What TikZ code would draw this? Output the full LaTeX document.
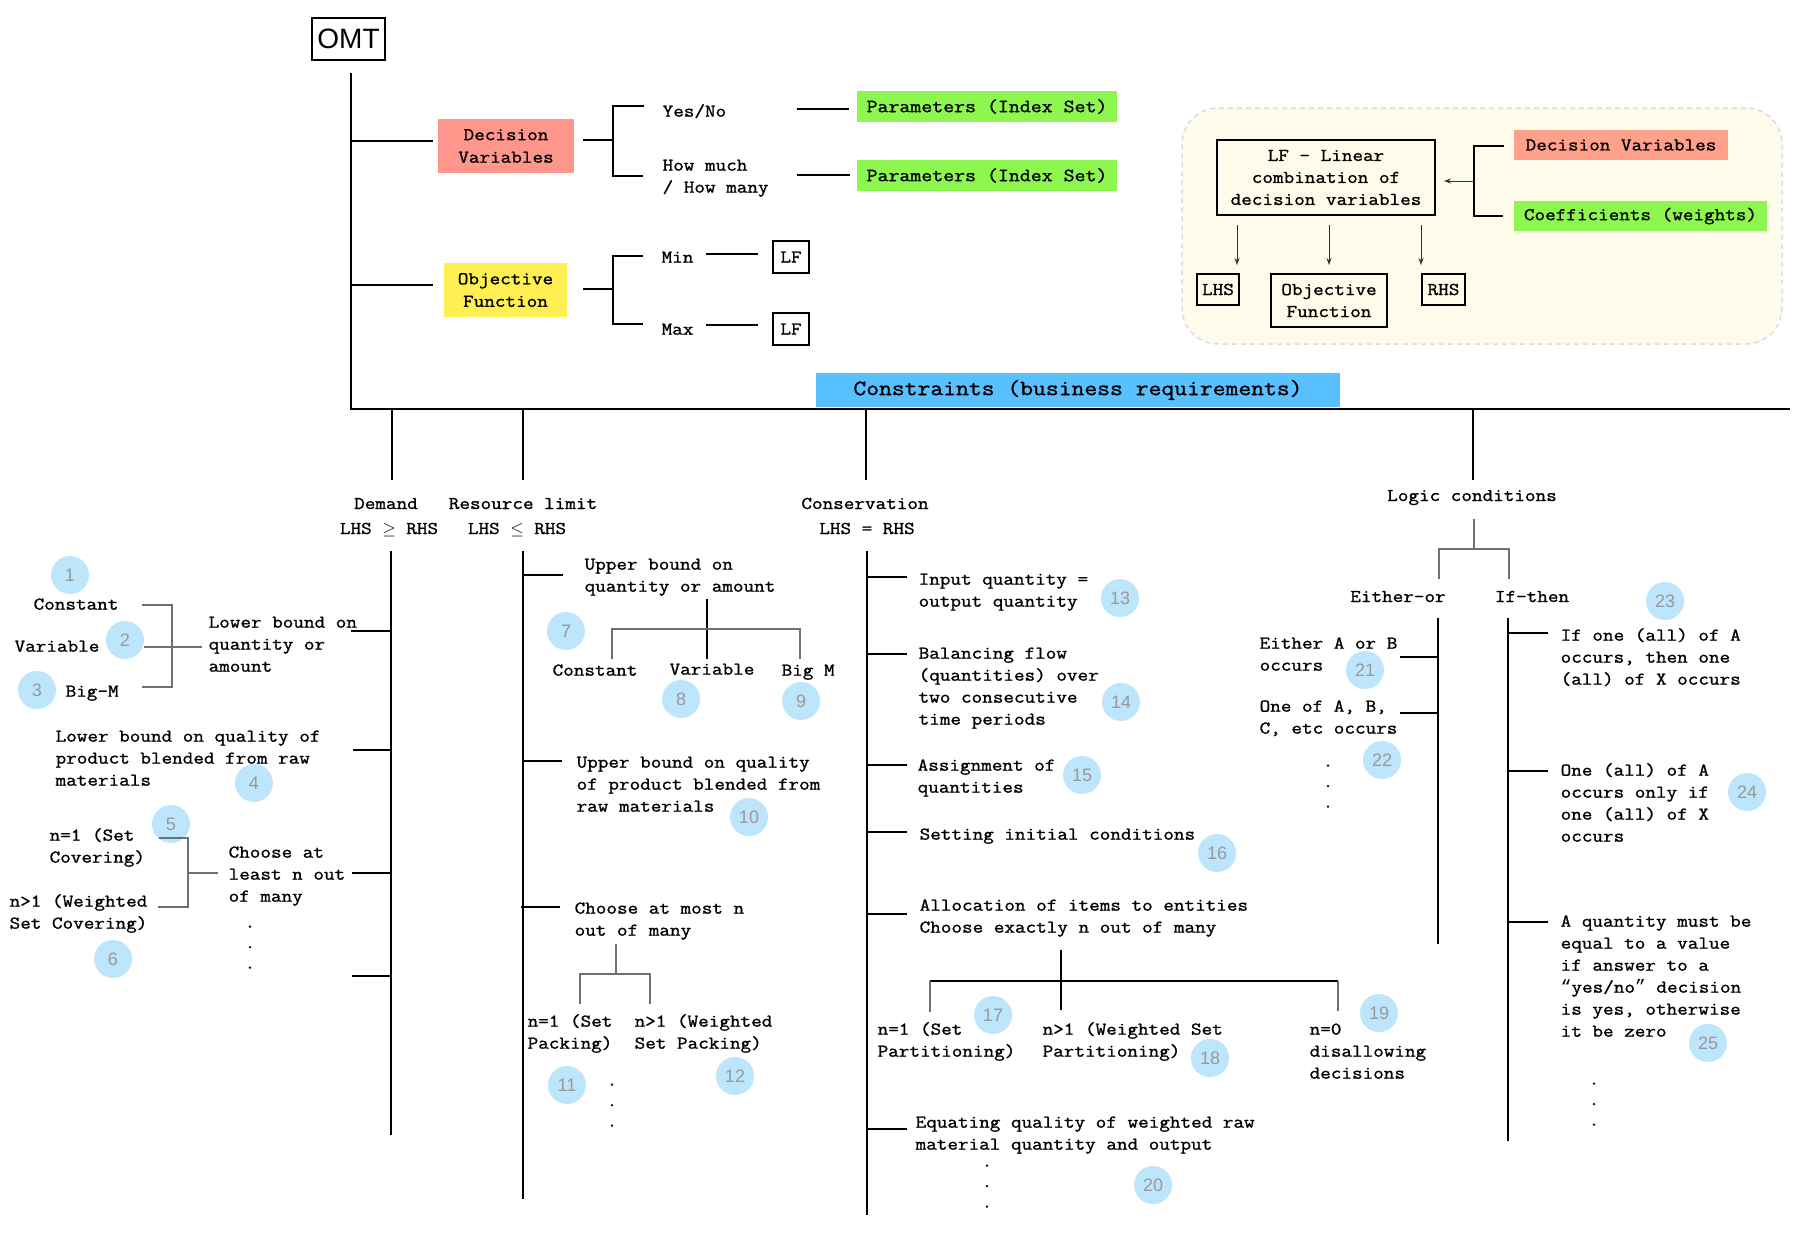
\documentclass[tikz,border=0pt]{standalone}
\usepackage{fontspec}
\newfontfamily\mono{Latin Modern Mono}[FakeStretch=1.143,FakeBold=1.2]
\newfontfamily\qmono{Liberation Mono}
\newfontfamily\hsans{Liberation Sans}
\usetikzlibrary{arrows.meta}
\definecolor{dvred}{HTML}{FF968C}
\definecolor{dvredb}{HTML}{FFA08A}
\definecolor{ofyel}{HTML}{FFEF52}
\definecolor{pgreen}{HTML}{8DF750}
\definecolor{cblue}{HTML}{58C0FF}
\definecolor{cream}{HTML}{FEFBEA}
\definecolor{creamline}{HTML}{DCDCDC}
\definecolor{numfill}{HTML}{BDE5FB}
\definecolor{numtext}{HTML}{999999}
\definecolor{treegray}{HTML}{707070}
\newcommand\fl{\rule{0pt}{15pt}}
\begin{document}
\begin{tikzpicture}[x=1pt,y=-1pt, line width=1.3pt,
 txt/.style={font=\mono\fontsize{18}{22}\selectfont, inner sep=0pt, align=left, anchor=north west},
 ctxt/.style={font=\mono\fontsize{18}{22}\selectfont, inner sep=0pt, anchor=base},
 cdots/.style={font=\mono\fontsize{18}{20.5}\selectfont, inner sep=0pt, align=center, anchor=north},
 box/.style={draw, line width=1.2pt, inner sep=0pt, align=center, font=\mono\fontsize{18}{22}\selectfont},
 fbox/.style={inner sep=0pt, align=center, font=\mono\fontsize{18}{22.5}\selectfont},
 num/.style={circle, fill=numfill, minimum size=38pt, inner sep=0pt, text=numtext, font=\hsans\fontsize{18}{18}\selectfont},
 gl/.style={draw=treegray},
 arr/.style={-{Stealth[length=7pt,width=5pt]}, line width=1pt, draw=black!80}
]
\useasboundingbox (0,0) rectangle (1797,1234);
\fill[white] (0,0) rectangle (1797,1234);

% ---------- cream panel ----------
\node[draw=creamline, fill=cream, dash pattern=on 5pt off 4pt, line width=1.5pt,
  rounded corners=36pt, minimum width=600pt, minimum height=236pt, inner sep=0pt] (panel) at (1482,226) {};

% ---------- number circles ----------
\node[num] (c1) at (70,575) {1};
\node[num] (c2) at (125,640) {2};
\node[num] (c3) at (37,690) {3};
\node[num] (c4) at (254,783) {4};
\node[num] (c5) at (171,824) {5};
\node[num] (c6) at (113,959) {6};
\node[num] (c7) at (566,631) {7};
\node[num] (c8) at (681,699) {8};
\node[num] (c9) at (801,701) {9};
\node[num] (c10) at (749,817) {10};
\node[num] (c11) at (567,1085) {11};
\node[num] (c12) at (735,1076) {12};
\node[num] (c13) at (1120,598) {13};
\node[num] (c14) at (1121,702) {14};
\node[num] (c15) at (1082,775) {15};
\node[num] (c16) at (1217,853) {16};
\node[num] (c17) at (993,1015) {17};
\node[num] (c18) at (1210,1058) {18};
\node[num] (c19) at (1379,1013) {19};
\node[num] (c20) at (1153,1185) {20};
\node[num] (c21) at (1365,670) {21};
\node[num] (c22) at (1382,760) {22};
\node[num] (c23) at (1665,601) {23};
\node[num] (c24) at (1747,792) {24};
\node[num] (c25) at (1708,1043) {25};

% ---------- boxes ----------
\node[draw, line width=1.2pt, minimum width=73pt, minimum height=42pt, inner sep=0pt,
  font=\hsans\fontsize{28}{28}\selectfont] (omt) at (348.5,39) {OMT};
\node[fbox, fill=dvred, minimum width=136pt, minimum height=54pt] (dv) at (506,146) {Decision\\Variables};
\node[fbox, fill=ofyel, minimum width=123pt, minimum height=54pt] (of) at (505.5,290) {Objective\\Function};
\node[fbox, fill=pgreen, minimum width=260pt, minimum height=31pt, font=\mono\fontsize{18.6}{22}\selectfont] (p1) at (987,106.5) {Parameters (Index Set)};
\node[fbox, fill=pgreen, minimum width=260pt, minimum height=31pt, font=\mono\fontsize{18.6}{22}\selectfont] (p2) at (987,175.5) {Parameters (Index Set)};
\node[box, minimum width=36pt, minimum height=32pt] (lf1) at (791,257) {LF};
\node[box, minimum width=36pt, minimum height=32pt] (lf2) at (791,329) {LF};
\node[fbox, fill=cblue, minimum width=524pt, minimum height=34pt, font=\mono\fontsize{21.8}{24}\selectfont] (cons) at (1078,390) {Constraints (business requirements)};

\node[box, fill=cream, minimum width=218pt, minimum height=75pt] (lfb) at (1326,177.5) {LF - Linear\\combination of\\decision variables};
\node[box, fill=cream, minimum width=42pt, minimum height=31pt] (lhs) at (1218,289.5) {LHS};
\node[box, fill=cream, minimum width=116pt, minimum height=53pt] (ofs) at (1329,300.5) {Objective\\Function};
\node[box, fill=cream, minimum width=43pt, minimum height=31pt] (rhs) at (1443.5,289.5) {RHS};
\node[fbox, fill=dvredb, minimum width=214pt, minimum height=30pt] (dv2) at (1621,145) {Decision Variables};
\node[fbox, fill=pgreen, minimum width=253pt, minimum height=30pt] (coef) at (1640.5,216) {Coefficients (weights)};

% ---------- spine ----------
\coordinate (spT) at (351,73);
\coordinate (spB) at (351,409);
\coordinate (spE) at (1790,409);
\coordinate (sp1) at (351,141);
\coordinate (sp2) at (351,285);
\draw (spT) -- (spB) -- (spE);
\draw (sp1) -- (433,141);
\draw (sp2) -- (433,285);

% DV bracket
\coordinate (dvj) at (613,140);
\coordinate (dvt) at (613,106);
\coordinate (dvb) at (613,176);
\draw (583,140) -- (dvj);
\draw (644,106) -- (dvt) -- (dvb) -- (643,176);
\coordinate (yl1) at (797,109); \coordinate (yl2) at (849,109);
\coordinate (hl1) at (797,175); \coordinate (hl2) at (850,175);
\draw (yl1) -- (yl2);
\draw (hl1) -- (hl2);

% OF bracket
\coordinate (ofj) at (613,289);
\coordinate (oft) at (613,256);
\coordinate (ofb) at (613,324);
\draw (583,289) -- (ofj);
\draw (643,256) -- (oft) -- (ofb) -- (643,324);
\coordinate (mn1) at (706,254); \coordinate (mn2) at (758,254);
\coordinate (mx1) at (706,325); \coordinate (mx2) at (758,325);
\draw (mn1) -- (mn2);
\draw (mx1) -- (mx2);

% panel connectors
\coordinate (pj) at (1474,181);
\draw (1504,146) -- (1474,146) -- (1474,216) -- (1503,216);
\draw[arr] (pj) -- (1444,181);
\draw[arr] (1237,225) -- (1237,265);
\draw[arr] (1329,225) -- (1329,265);
\draw[arr] (1421,225) -- (1421,265);

% ---------- level 2 verticals ----------
\coordinate (dm0) at (392,409); \coordinate (dm1) at (392,480);
\coordinate (rs0) at (523,409); \coordinate (rs1) at (523,480);
\coordinate (cv0) at (866,409); \coordinate (cv1) at (866,480);
\coordinate (lg0) at (1473,409); \coordinate (lg1) at (1473,480);
\draw (dm0) -- (dm1);
\draw (rs0) -- (rs1);
\draw (cv0) -- (cv1);
\draw (lg0) -- (lg1);

% Demand column
\coordinate (dmT) at (391,551); \coordinate (dmB) at (391,1135);
\draw (dmT) -- (dmB);
\draw (351,631) -- (391,631);
\draw (353,750) -- (391,750);
\draw (352,873) -- (391,873);
\draw (352,976) -- (391,976);
\draw[gl] (142,605) -- (172,605) -- (172,687) -- (142,687);
\draw[gl] (144,647) -- (202,647);
\draw[gl] (159,838) -- (188,838) -- (188,907) -- (158,907);
\draw[gl] (188,873) -- (218,873);

% Resource column
\coordinate (rsT) at (523,551); \coordinate (rsB) at (523,1199);
\draw (rsT) -- (rsB);
\draw (523,575) -- (563,575);
\draw (523,761) -- (562,761);
\draw (521,907) -- (560,907);
\draw (707,599) -- (707,659);
\draw[gl] (612,659) -- (612,629) -- (800,629) -- (800,659);
\draw[gl] (616,944) -- (616,974);
\draw[gl] (580,1004) -- (580,974) -- (650,974) -- (650,1004);

% Conservation column
\coordinate (cvT) at (867,551); \coordinate (cvB) at (867,1215);
\draw (cvT) -- (cvB);
\foreach \yy in {577,654,765,832,914,1129} \draw (867,\yy) -- (907,\yy);
\draw (1061,950) -- (1061,1010);
\draw (930,981) -- (1338,981);
\draw[gl] (930,981) -- (930,1012);
\draw[gl] (1338,981) -- (1338,1011);

% Logic column
\draw[gl] (1474,519) -- (1474,549);
\draw[gl] (1439,579) -- (1439,549) -- (1509,549) -- (1509,579);
\draw (1438,618) -- (1438,944);
\draw (1400,657) -- (1438,657);
\draw (1400,713) -- (1438,713);
\draw (1508,618) -- (1508,1141);
\draw (1508,633) -- (1548,633);
\draw (1508,771) -- (1548,771);
\draw (1508,922) -- (1548,922);

% ---------- texts ----------
\node[txt] (yes) at (662,101) {\fl Yes/No};
\node[txt] (how) at (662,155) {\fl How much\\/ How many};
\node[txt] (min) at (661,247) {\fl Min};
\node[txt] (max) at (661,319) {\fl Max};

\node[ctxt] (dem) at (386,509) {Demand};
\node[ctxt] (dem2) at (389,534) {LHS $\geq$ RHS};
\node[ctxt] (res) at (523,509) {Resource limit};
\node[ctxt] (res2) at (517,534) {LHS $\leq$ RHS};
\node[ctxt] (con) at (865,509) {Conservation};
\node[ctxt] (con2) at (867,534) {LHS = RHS};
\node[ctxt] (log) at (1472,501) {Logic conditions};
\node[ctxt] (eo) at (1398,602) {Either-or};
\node[ctxt] (it) at (1532,602) {If-then};

\node[txt] (const1) at (33,594) {\fl Constant};
\node[txt] (var1) at (14,636) {\fl Variable};
\node[txt] (bigm1) at (65,681) {\fl Big-M};
\node[txt] (lbq) at (208,612) {\fl Lower bound on\\quantity or\\amount};
\node[txt] (lbqual) at (55,726) {\fl Lower bound on quality of\\product blended from raw\\materials};
\node[txt] (n1c) at (49,825) {\fl n=1 (Set\\Covering)};
\node[txt] (n2c) at (9,891) {\fl n>1 (Weighted\\Set Covering)};
\node[txt] (cal) at (228,842) {\fl Choose at\\least n out\\of many};
\node[cdots] (dots1) at (250,912) {\fl.\\.\\.};

\node[txt] (ubq) at (584,554) {\fl Upper bound on\\quantity or amount};
\node[txt] (const2) at (552,660) {\fl Constant};
\node[txt] (var2) at (669,659) {\fl Variable};
\node[txt] (bigm2) at (781,660) {\fl Big M};
\node[txt] (ubqual) at (576,752) {\fl Upper bound on quality\\of product blended from\\raw materials};
\node[txt] (cam) at (574,898) {\fl Choose at most n\\out of many};
\node[txt] (n1p) at (527,1011) {\fl n=1 (Set\\Packing)};
\node[txt] (n2p) at (634,1011) {\fl n>1 (Weighted\\Set Packing)};
\node[cdots] (dots2) at (612,1070) {\fl.\\.\\.};

\node[txt] (inq) at (918,569) {\fl Input quantity =\\output quantity};
\node[txt] (bal) at (918,643) {\fl Balancing flow\\(quantities) over\\two consecutive\\time periods};
\node[txt] (asg) at (917,755) {\fl Assignment of\\quantities};
\node[txt] (sic) at (919,824) {\fl Setting initial conditions};
\node[txt] (alloc) at (919,895) {\fl Allocation of items to entities\\Choose exactly n out of many};
\node[txt] (n1pt) at (877,1019) {\fl n=1 (Set\\Partitioning)};
\node[txt] (n2pt) at (1042,1019) {\fl n>1 (Weighted Set\\Partitioning)};
\node[txt] (n0) at (1309,1019) {\fl n=0\\disallowing\\decisions};
\node[txt] (eqq) at (915,1112) {\fl Equating quality of weighted raw\\material quantity and output};
\node[cdots] (dots3) at (987,1151) {\fl.\\.\\.};

\node[txt] (eab) at (1259,633) {\fl Either A or B\\occurs};
\node[txt] (oab) at (1259,696) {\fl One of A, B,\\C, etc occurs};
\node[cdots] (dots4) at (1328,751) {\fl.\\.\\.};
\node[txt] (ifo) at (1560,625) {\fl If one (all) of A\\occurs, then one\\(all) of X occurs};
\node[txt] (ona) at (1560,760) {\fl One (all) of A\\occurs only if\\one (all) of X\\occurs};
\node[txt] (aqm) at (1560,911) {\fl A quantity must be\\equal to a value\\if answer to a\\{\qmono “}yes/no{\qmono ”} decision\\is yes, otherwise\\it be zero};
\node[cdots] (dots5) at (1594,1069) {\fl.\\.\\.};
\end{tikzpicture}
\end{document}
